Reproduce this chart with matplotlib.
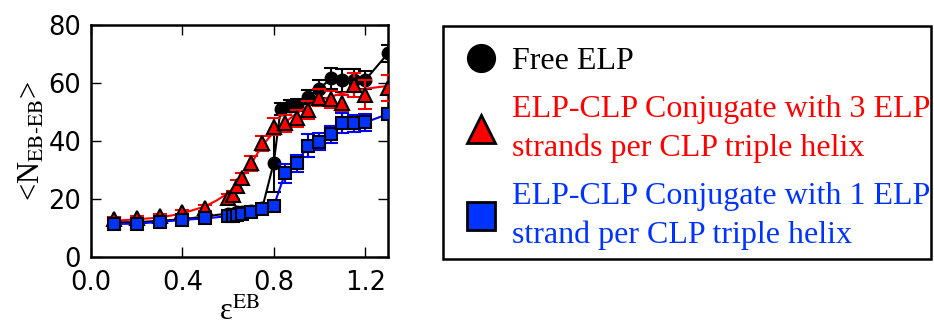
import numpy as np
import matplotlib
matplotlib.use("Agg")
import matplotlib.pyplot as plt
from matplotlib.lines import Line2D
from matplotlib.patches import Rectangle

plt.rcParams['mathtext.fontset'] = 'stix'

# data
x_vals = [0.1, 0.2, 0.3, 0.4, 0.5, 0.6, 0.62, 0.64, 0.66, 0.7, 0.75, 0.8,
          0.85, 0.9, 0.95, 1.0, 1.05, 1.1, 1.15, 1.2, 1.3]

free_x = [0.1, 0.2, 0.3, 0.4, 0.5, 0.6, 0.62, 0.64, 0.66, 0.7, 0.75, 0.8,
          0.83, 0.87, 0.9, 0.95, 1.0, 1.05, 1.1, 1.15, 1.2, 1.3]
free_y = [12, 12, 12.5, 13, 14, 15, 15, 15.5, 15.5, 16, 17, 32.5,
          51, 52, 52.5, 55.2, 58, 61.6, 61, 61, 61, 70.2]
free_err = [0.5, 0.5, 0.5, 0.5, 0.5, 0.5, 0.5, 0.5, 0.5, 0.8, 1, 10,
            2, 2, 2, 2.5, 3, 3.5, 4, 4, 3, 3]

three_y = [13, 13.3, 14, 15.5, 17, 20.2, 21.4, 24.4, 27.1, 32.3, 39.2, 45,
           46.1, 47.8, 50.7, 54.9, 54.4, 53, 59.3, 55.9, 58.2]
three_err = [0.8, 0.8, 0.8, 0.8, 1, 1.5, 1.5, 2, 2, 2.5, 2.5, 3,
             3, 3, 3, 3, 3, 3, 4, 5, 4.5]

fit_x = [0.1, 0.2, 0.3, 0.4, 0.5, 0.55, 0.6, 0.65, 0.7, 0.75, 0.8, 0.85,
         0.9, 0.95, 1.0, 1.1, 1.2, 1.3]
fit_y = [12.5, 13, 13.6, 15, 17.5, 19.5, 22, 26, 32, 38.5, 43, 46.5,
         49.5, 52, 54, 56.5, 58, 59]

one_y = [11.4, 11.5, 12.1, 12.8, 13.3, 14.1, 14.3, 14.5, 14.8, 15.6, 16.4, 17.6,
         28.9, 32.3, 38.4, 39.8, 42.3, 46.1, 46.1, 46.4, 49.3]
one_err = [0.6, 0.6, 0.6, 0.6, 0.6, 0.8, 0.8, 0.8, 0.8, 1, 1, 1,
           3.3, 3, 4, 3, 3, 3.4, 3, 3, 2]

labels = ["Free ELP",
          "ELP-CLP Conjugate with 3 ELP\nstrands per CLP triple helix",
          "ELP-CLP Conjugate with 1 ELP\nstrand per CLP triple helix"]
blue = '#0033ff'

fig = plt.figure(figsize=(9.34, 3.29), dpi=100)
ax = fig.add_axes([0.0974, 0.2188, 0.318, 0.7052])

ax.errorbar(free_x, free_y, yerr=free_err, color='k', marker='o', ms=9,
            mfc='k', mec='k', lw=1.5, elinewidth=1.5, capsize=5, capthick=1.5, zorder=2)
ax.plot(fit_x, fit_y, color='red', lw=1.5, zorder=3)
ax.errorbar(x_vals, three_y, yerr=three_err, color='red', ls='none', marker='^', ms=10,
            mfc='red', mec='k', mew=1.5, elinewidth=1.5, capsize=5, capthick=1.5, zorder=3)
ax.errorbar(x_vals, one_y, yerr=one_err, color='blue', marker='s', ms=9,
            mfc=blue, mec='k', mew=1.5, lw=1.5, elinewidth=1.5, capsize=5, capthick=1.5, zorder=4)

ax.set_xlim(0, 1.3)
ax.set_ylim(0, 80)
ax.set_xticks([0.0, 0.4, 0.8, 1.2])
ax.set_yticks([0, 20, 40, 60, 80])
ax.tick_params(direction='in', top=True, right=True, length=7, width=1,
               labelsize=18.5)
ax.tick_params(axis='x', pad=9)
ax.tick_params(axis='y', pad=7)
for s in ax.spines.values():
    s.set_linewidth(1.8)

ax.set_xlabel('ε$^{\\mathrm{EB}}$', family='Liberation Serif', fontsize=22, labelpad=2)
ax.set_ylabel('<N$_{\\mathrm{EB\\text{-}EB}}$>', family='Liberation Serif', fontsize=22, labelpad=1)

handles = [Line2D([], [], ls='none', marker='o', ms=20, mfc='k', mec='k'),
           Line2D([], [], ls='none', marker='^', ms=20, mfc='red', mec='k', mew=2),
           Line2D([], [], ls='none', marker='s', ms=20, mfc=blue, mec='k', mew=2)]
leg = fig.legend(handles, labels, loc='upper left', bbox_to_anchor=(443 / 934, 1 - 26 / 329),
                 borderaxespad=0, prop={'family': 'Liberation Serif', 'size': 23},
                 frameon=False, handlelength=1.1, handletextpad=0.4,
                 labelspacing=0.6, borderpad=0.65)
for t, c in zip(leg.get_texts(), ['k', 'red', blue]):
    t.set_color(c)
    t.set_linespacing(1.42)

# legend box as in the reference
fig.patches.append(Rectangle((443 / 934, 1 - 259 / 329), 488 / 934, 233 / 329,
                             transform=fig.transFigure, fill=False,
                             edgecolor='k', linewidth=1.8))

fig.savefig('out.png', dpi=100)
